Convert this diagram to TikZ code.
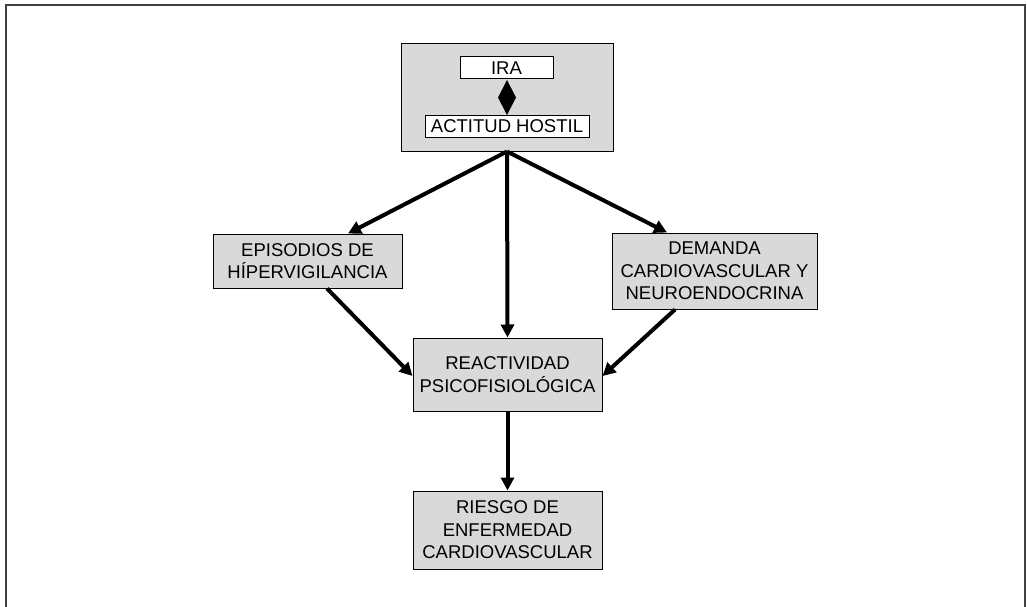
\documentclass[tikz,border=0pt]{standalone}
\usepackage{fontspec}
\setmainfont{Liberation Sans}
\usetikzlibrary{arrows.meta,calc}
\definecolor{boxgray}{HTML}{D9D9D9}
\definecolor{framegray}{HTML}{404040}
\begin{document}
\begin{tikzpicture}[x=1pt,y=-1pt,
  box/.style={draw=black,line width=1pt,fill=boxgray,rectangle,inner sep=0pt,align=center,
    font=\fontsize{18.5}{22.5}\selectfont},
  wbox/.style={draw=black,line width=1pt,fill=white,rectangle,inner sep=0pt,
    font=\fontsize{18.5}{22.5}\selectfont},
  conn/.style={line width=4pt,-{Triangle[length=13pt,width=13pt]},shorten >=0pt}]
\useasboundingbox (0,0) rectangle (1027,607);
\draw[framegray,line width=2pt] (6,610) -- (6,5) -- (1025,5) -- (1025,610);
\node[box,minimum width=212pt,minimum height=107pt] (top) at (507,97.5) {};
\node[wbox,minimum width=93pt,minimum height=22pt] (ira) at (506.5,68) {IRA};
\node[wbox,minimum width=164pt,minimum height=21pt] (act) at (507,126.5) {ACTITUD HOSTIL};
\coordinate (dtop) at (507,80);
\coordinate (dbot) at (507,115);
\fill[black] (dtop) -- (516,97.5) -- (dbot) -- (498,97.5) -- cycle;
\node[box,minimum width=189pt,minimum height=54pt] (epi) at (307.5,261) {EPISODIOS DE\\HÍPERVIGILANCIA};
\node[box,minimum width=205pt,minimum height=76pt] (dem) at (714.5,271) {DEMANDA\\CARDIOVASCULAR Y\\NEUROENDOCRINA};
\node[box,minimum width=189pt,minimum height=73pt] (rea) at (507.5,374.5) {REACTIVIDAD\\PSICOFISIOLÓGICA};
\node[box,minimum width=189pt,minimum height=78pt] (rie) at (507.5,530) {RIESGO DE\\ENFERMEDAD\\CARDIOVASCULAR};
\draw[conn] (top.south) -- ([xshift=40.5pt]epi.north);
\draw[conn] (top.south) -- ([xshift=-47.5pt]dem.north);
\draw[conn] (top.south) -- (rea.north);
\draw[conn] ([xshift=19.5pt]epi.south) -- ([yshift=-1.5pt]rea.west);
\draw[conn] ([xshift=-39.5pt]dem.south) -- ([yshift=-1.5pt]rea.east);
\draw[conn] (rea.south) -- (rie.north);
\end{tikzpicture}
\end{document}
